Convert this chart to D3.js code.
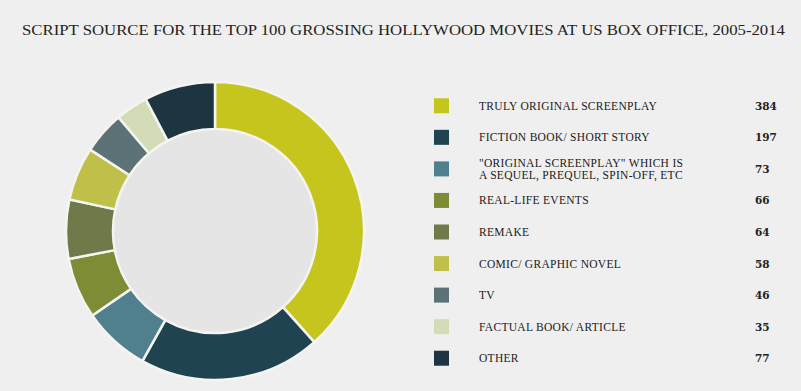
<!DOCTYPE html>
<html lang="en">
<head>
<meta charset="UTF-8">
<title>Script source</title>
<script src="https://d3js.org/d3.v7.min.js"></script>
<style>
  body { margin: 0; background: #efefef; }
  svg { display: block; }
</style>
</head>
<body>
<script>
    const width  = 801;
    const height = 391;

    const categories = [
        "TRULY ORIGINAL SCREENPLAY",
        "FICTION BOOK/ SHORT STORY",
        "\"ORIGINAL SCREENPLAY\" WHICH IS|A SEQUEL, PREQUEL, SPIN-OFF, ETC",
        "REAL-LIFE EVENTS",
        "REMAKE",
        "COMIC/ GRAPHIC NOVEL",
        "TV",
        "FACTUAL BOOK/ ARTICLE",
        "OTHER"
    ];
    const values = [384, 197, 73, 66, 64, 58, 46, 35, 77];
    const colors = ["#c5c51e", "#1f4350", "#507f8e", "#7f8c36", "#6e7a4a",
                    "#bfc04a", "#5c7277", "#d3dcb6", "#1c3540"];
    const title = "SCRIPT SOURCE FOR THE TOP 100 GROSSING HOLLYWOOD MOVIES AT US BOX OFFICE, 2005-2014";

    const data = categories.map((c, i) => ({label: c, value: values[i], color: colors[i]}));

    const svg = d3.select("body").append("svg")
        .attr("width", width)
        .attr("height", height);

    svg.append("rect")
        .attr("width", width).attr("height", height)
        .attr("fill", "#efefef");

    svg.append("text")
        .attr("x", 22)
        .attr("y", 35)
        .attr("font-family", "Liberation Serif")
        .attr("font-size", 15)
        .attr("fill", "#222")
        .attr("textLength", 763)
        .attr("lengthAdjust", "spacingAndGlyphs")
        .text(title);

    // donut
    const cx = 215, cy = 231;
    const outerR = 149, innerR = 102;

    const pie = d3.pie().sort(null).value(d => d.value);
    const arc = d3.arc().innerRadius(innerR).outerRadius(outerR);

    const g = svg.append("g")
        .attr("transform", "translate(" + [cx, cy] + ")");

    g.append("circle")
        .attr("r", innerR)
        .attr("fill", "#e5e5e5");

    g.selectAll("path")
        .data(pie(data))
        .enter()
        .append("path")
        .attr("d", arc)
        .attr("fill", d => d.data.color)
        .attr("stroke", "#f4f4f0")
        .attr("stroke-width", 2.5);

    // legend
    const y = d3.scaleBand()
        .domain(d3.range(data.length))
        .range([90, 374]);

    const rows = svg.append("g").selectAll("g")
        .data(data)
        .enter()
        .append("g")
        .attr("transform", (d, i) => "translate(0," + (y(i) + y.bandwidth() / 2) + ")");

    rows.append("rect")
        .attr("x", 434)
        .attr("y", -7.5)
        .attr("width", 15)
        .attr("height", 15)
        .attr("fill", d => d.color);

    rows.each(function(d) {
        const lines = d.label.split("|");
        const t = d3.select(this).append("text")
            .attr("x", 479)
            .attr("font-family", "Liberation Serif")
            .attr("font-size", 11.5)
            .attr("letter-spacing", 0.3)
            .attr("fill", "#1a1a1a");
        lines.forEach((l, k) => {
            t.append("tspan")
                .attr("x", 479)
                .attr("y", (k - (lines.length - 1) / 2) * 12 + 4)
                .text(l);
        });
    });

    rows.append("text")
        .attr("x", 755)
        .attr("y", 4)
        .attr("font-family", "DejaVu Serif")
        .attr("font-weight", "bold")
        .attr("font-size", 10.5)
        .attr("fill", "#222")
        .text(d => d.value);
</script>
</body>
</html>
